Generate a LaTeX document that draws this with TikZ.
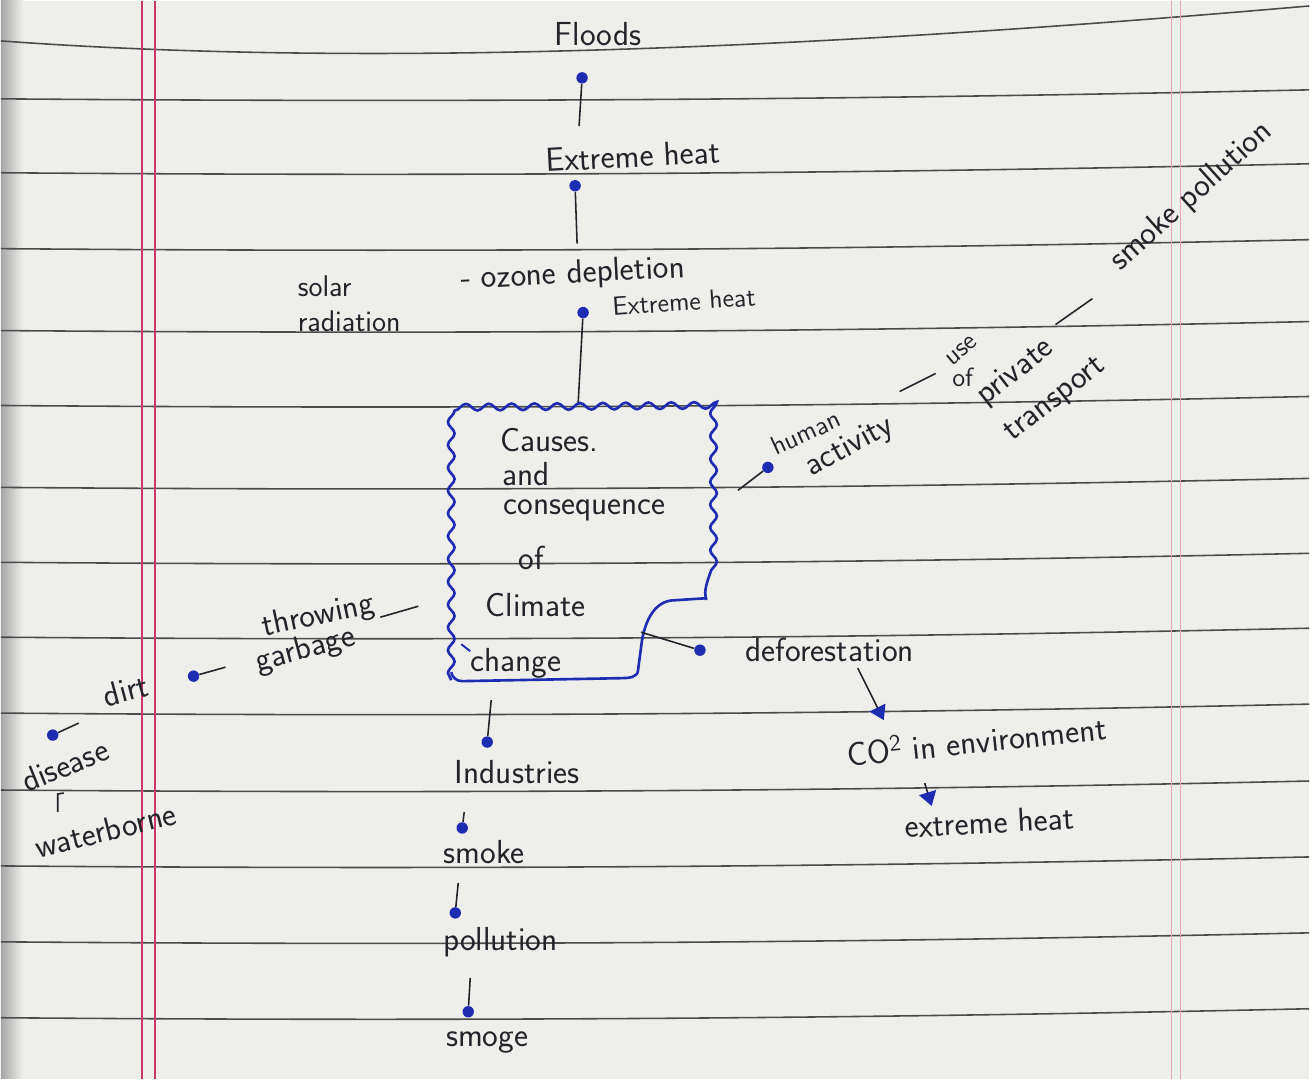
\documentclass[tikz,border=0pt]{standalone}
\usetikzlibrary{decorations.pathmorphing,arrows.meta}
\definecolor{paper}{RGB}{238,238,235}
\definecolor{rulegray}{RGB}{75,75,75}
\definecolor{marginred}{RGB}{205,55,110}
\definecolor{penblue}{RGB}{30,44,178}
\definecolor{ink}{RGB}{35,35,42}
\begin{document}
\begin{tikzpicture}[x=0.02cm,y=-0.02cm,>=stealth,
		lbl/.style={font=\sffamily\fontsize{19}{22}\selectfont,text=ink,inner sep=0pt},
		smalllbl/.style={font=\sffamily\fontsize{15}{17}\selectfont,text=ink,inner sep=0pt},
		dot/.style={circle,fill=penblue,inner sep=0pt,minimum size=6.5pt},
		stem/.style={ink,line width=0.9pt},
		wavy/.style={penblue,line width=1.5pt,decorate,decoration={snake,amplitude=1.9pt,segment length=13pt}},
		tip/.style={-{Triangle[color=penblue,length=8pt,width=10pt]}}]
			% paper
			\fill[paper] (0,0) rectangle (1310,1079);
			\shade[left color=gray!70,right color=paper] (0,0) rectangle (22,1079);
			\draw[rulegray,line width=0.9pt] (0,40) .. controls (300,62) and (700,58) .. (1310,5);
			\foreach \y in {98,172,248,330,405,487,562,637,713,790,866,942,1018}
				\draw[rulegray,line width=0.9pt] (0,\y) .. controls (500,\y+4) and (900,\y) .. (1310,\y-9);
			\draw[marginred,line width=1.1pt] (141,0) -- (141,1079);
			\draw[marginred,line width=1.1pt] (154,0) -- (154,1079);
			\draw[marginred!45,line width=0.8pt] (1172,0) -- (1172,1079);
			\draw[marginred!45,line width=0.8pt] (1181,0) -- (1181,1079);
			% top chain
			\node[lbl] (floods) at (598,33) {Floods};
			\node[dot] (d1) at (582,77) {};
			\coordinate (s1) at (579,125);
			\draw[stem] (d1) -- (s1);
			\node[lbl,rotate=3] (heat1) at (633,155) {Extreme heat};
			\node[dot] (d2) at (575,185) {};
			\coordinate (s2) at (577,243);
			\draw[stem] (d2) -- (s2);
			\node[lbl,font=\sffamily\fontsize{17}{20}\selectfont,anchor=west,align=left] (solar) at (297,303) {solar\\radiation};
			\node[lbl,anchor=west,rotate=3] (ozone) at (460,280) {- ozone depletion};
			\node[dot] (d3) at (583,312) {};
			\node[smalllbl,anchor=west,rotate=4] (heat2) at (612,306) {Extreme heat};
			\coordinate (boxtop) at (578,404);
			\draw[stem] (d3) -- (boxtop);
			% centre box
			\draw[wavy] (451,680) -- (451,412) -- (706,410) -- (706,600);
			\draw[penblue,line width=1.5pt] (706,598) -- (675,600) to[out=180,in=80] (642,640) -- (638,670) to[out=-90,in=0] (622,678) -- (462,681) to[out=180,in=-80] (451,672);
			\draw[penblue,line width=1.1pt] (461,644) -- (470,651);
			\node[lbl,anchor=west] (t1) at (500,440) {Causes.};
			\node[lbl,anchor=west] (t2) at (502,474) {and};
			\node[lbl,anchor=west] (t3) at (503,510) {consequence};
			\node[lbl,anchor=west] (t4) at (518,558) {of};
			\node[lbl,anchor=west] (t5) at (485,605) {Climate};
			\node[lbl,anchor=west] (t6) at (470,663) {change};
			% human activity
			\node[dot] (d4) at (768,467) {};
			\coordinate (h0) at (738,490);
			\draw[stem] (h0) -- (d4);
			\node[smalllbl,rotate=25] (human) at (806,432) {human};
			\node[lbl,rotate=28] (activity) at (850,447) {activity};
			\coordinate (u0) at (900,391);
			\coordinate (u1) at (936,373);
			\draw[stem] (u0) -- (u1);
			\node[smalllbl,rotate=40] (use) at (962,350) {use};
			\node[smalllbl] (of) at (963,377) {of};
			\node[lbl,rotate=38] (private) at (1016,372) {private};
			\node[lbl,rotate=38] (transport) at (1056,400) {transport};
			\coordinate (p0) at (1056,324);
			\coordinate (p1) at (1093,298);
			\draw[stem] (p0) -- (p1);
			\node[lbl,rotate=42] (smokepol) at (1192,196) {smoke pollution};
			% deforestation
			\coordinate (corner) at (641,632);
			\node[dot] (d5) at (700,650) {};
			\draw[stem] (corner) -- (d5);
			\node[lbl] (defor) at (830,650) {deforestation};
			\coordinate (a1) at (858,668);
			\coordinate (a2) at (884,720);
			\draw[stem,tip] (a1) -- (a2);
			\node[lbl,rotate=6] (co2) at (977,740) {CO\textsuperscript{2} in environment};
			\coordinate (b1) at (925,783);
			\coordinate (b2) at (932,806);
			\draw[stem,tip] (b1) -- (b2);
			\node[lbl,rotate=3] (heat3) at (990,822) {extreme heat};
			% garbage side
			\node[lbl,rotate=12] (throw) at (318,616) {throwing};
			\node[lbl,rotate=15] (garb) at (305,650) {garbage};
			\coordinate (g0) at (380,617);
			\coordinate (g1) at (418,606);
			\draw[stem] (g0) -- (g1);
			\node[dot] (d6) at (193,676) {};
			\coordinate (g2) at (225,667);
			\draw[stem] (d6) -- (g2);
			\node[lbl,rotate=15] (dirt) at (125,690) {dirt};
			\node[dot] (d7) at (52,735) {};
			\coordinate (dd) at (78,723);
			\draw[stem] (d7) -- (dd);
			\node[lbl,rotate=22] (dis) at (64,765) {disease};
			\coordinate (w0) at (57,812);
			\coordinate (w1) at (57,794);
			\draw[stem] (w0) -- (w1) -- ++(6,-1);
			\node[lbl,rotate=14] (water) at (105,830) {waterborne};
			% industries chain
			\coordinate (i0) at (491,700);
			\node[dot] (d8) at (487,742) {};
			\draw[stem] (i0) -- (d8);
			\node[lbl] (ind) at (517,772) {Industries};
			\coordinate (i1) at (464,812);
			\node[dot] (d9) at (462,828) {};
			\draw[stem] (i1) -- (d9);
			\node[lbl] (smoke) at (484,852) {smoke};
			\coordinate (i2) at (458,883);
			\node[dot] (d10) at (455,913) {};
			\draw[stem] (i2) -- (d10);
			\node[lbl] (poll) at (500,942) {pollution};
			\coordinate (i3) at (470,978);
			\node[dot] (d11) at (468,1012) {};
			\draw[stem] (i3) -- (d11);
			\node[lbl] (smog) at (487,1043) {smoge};
		\end{tikzpicture}
\end{document}
